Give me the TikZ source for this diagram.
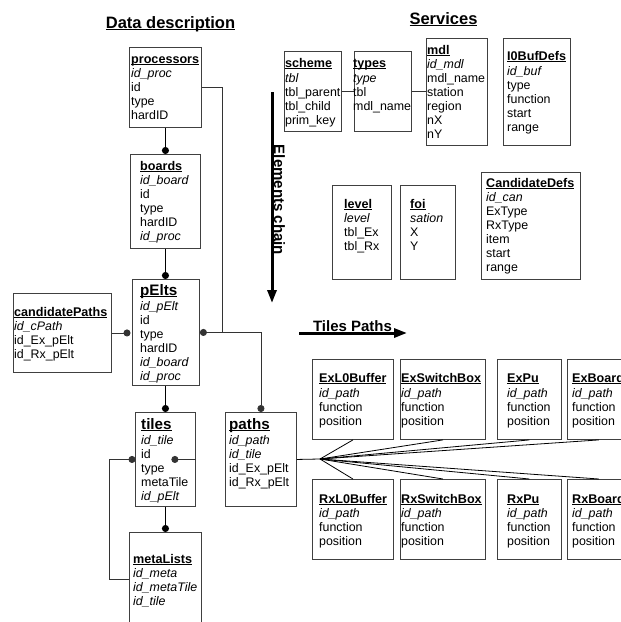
\documentclass[tikz,border=0pt]{standalone}
\usepackage{fontspec}
\setmainfont{Liberation Sans}
\usetikzlibrary{arrows.meta,calc}
\newsavebox\ulbox
\newcommand\ulx[1]{\sbox\ulbox{#1}\rlap{\rule[-1.8pt]{\wd\ulbox}{0.8pt}}\usebox\ulbox}
\newcommand\fldfont{\fontsize{12.4}{14}\selectfont}
\newcommand\hdrfont{\fontsize{12.6}{14}\selectfont\bfseries}
\newcommand\bighdrfont{\fontsize{15.2}{16}\selectfont\bfseries}
\newcommand\ttlfont{\fontsize{16.5}{18}\selectfont\bfseries}
\newcommand\arrfont{\fontsize{15}{16}\selectfont\bfseries}
\tikzset{
  tbl/.style={draw=black!75, line width=0.9pt, inner sep=0pt, anchor=north west},
  fld/.style={anchor=base west, inner sep=0pt, font=\fldfont},
  hdr/.style={anchor=base west, inner sep=0pt, font=\hdrfont},
  bighdr/.style={anchor=base west, inner sep=0pt, font=\bighdrfont},
  conn/.style={draw=black!80, line width=0.8pt},
  fanline/.style={draw=black, line width=0.8pt},
  stub/.style={draw=black, line width=1.6pt, -{Circle[length=7pt]}},
  dotstart/.style={{Circle[length=7pt]}-},
  dotend/.style={-{Circle[length=7pt]}},
  bigarrow/.style={draw=black, line width=3pt, -{Triangle[length=13pt,width=9pt]}},
}
\newcommand\tbox[5]{\node[tbl, minimum width={(#4-#2)*1pt}, minimum height={(#5-#3)*1pt}] (#1) at (#2,#3) {};}
\newcommand\thdr[5][hdr]{\node[#1] (#2-h) at (#3,#4) {\ulx{#5}};}
\newcommand\tflds[4]{\foreach \fx [count=\i from 0] in {#4} {\node[fld] (#1-f\i) at (#2,{#3+14*\i}) {\fx};}}
\begin{document}
\begin{tikzpicture}[x=1pt,y=-1pt]
\useasboundingbox (0,0) rectangle (621,622);
\clip (0,0) rectangle (621,622);
\fill[white] (0,0) rectangle (621,622);

% titles
\node[anchor=base, inner sep=0pt, font=\ttlfont] (tdata) at (170.5,28) {\ulx{Data description}};
\node[anchor=base, inner sep=0pt, font=\ttlfont] (tserv) at (443.5,24) {\ulx{Services}};

% data description tables
\tbox{proc}{129}{47}{201}{127}
\thdr{proc}{131}{63}{processors}
\tflds{proc}{131}{77}{\textit{id\_proc},id,type,hardID}

\tbox{boards}{130}{154}{200}{248}
\thdr{boards}{140}{170}{boards}
\tflds{boards}{140}{184}{\textit{id\_board},id,type,hardID,\textit{id\_proc}}

\tbox{pelts}{132}{279}{199}{385}
\thdr[bighdr]{pelts}{140}{295}{pElts}
\tflds{pelts}{140}{310}{\textit{id\_pElt},id,type,hardID,\textit{id\_board},\textit{id\_proc}}

\tbox{cand}{13}{293}{111}{372}
\thdr{cand}{14}{316}{candidatePaths}
\tflds{cand}{14}{330}{\textit{id\_cPath},id\_Ex\_pElt,id\_Rx\_pElt}

\tbox{tiles}{135}{412}{195}{506}
\thdr[bighdr]{tiles}{141}{429}{tiles}
\tflds{tiles}{141}{444}{\textit{id\_tile},id,type,metaTile,\textit{id\_pElt}}

\tbox{paths}{225}{412}{296}{506}
\thdr[bighdr]{paths}{229}{429}{paths}
\tflds{paths}{229}{444}{\textit{id\_path},\textit{id\_tile},id\_Ex\_pElt,id\_Rx\_pElt}

\tbox{meta}{129}{532}{201}{626}
\thdr{meta}{133}{563}{metaLists}
\tflds{meta}{133}{577}{\textit{id\_meta},\textit{id\_metaTile},\textit{id\_tile}}

% services tables
\tbox{scheme}{284}{51}{341}{131}
\thdr{scheme}{285}{67}{scheme}
\tflds{scheme}{285}{82}{\textit{tbl},tbl\_parent,tbl\_child,prim\_key}

\tbox{types}{354}{51}{411}{131}
\thdr{types}{353}{67}{types}
\tflds{types}{353}{82}{\textit{type},tbl,mdl\_name}

\tbox{mdl}{426}{38}{487}{145}
\thdr{mdl}{427}{54}{mdl}
\tflds{mdl}{427}{68}{\textit{id\_mdl},mdl\_name,station,region,nX,nY}

\tbox{buf}{503}{38}{570}{145}
\thdr{buf}{507}{60}{I0BufDefs}
\tflds{buf}{507}{75}{\textit{id\_buf},type,function,start,range}

\tbox{cdefs}{481}{172}{580}{279}
\thdr{cdefs}{486}{187}{CandidateDefs}
\tflds{cdefs}{486}{201}{\textit{id\_can},ExType,RxType,item,start,range}

\tbox{level}{332}{185}{391}{279}
\thdr{level}{344}{208}{level}
\tflds{level}{344}{222}{\textit{level},tbl\_Ex,tbl\_Rx}

\tbox{foi}{400}{185}{455}{279}
\thdr{foi}{410}{208}{foi}
\tflds{foi}{410}{222}{\textit{sation},X,Y}

% tiles paths tables
\tbox{exl0}{312}{359}{393}{439}
\thdr{exl0}{319}{382}{ExL0Buffer}
\tflds{exl0}{319}{397}{\textit{id\_path},function,position}

\tbox{exsw}{400}{359}{485}{439}
\thdr{exsw}{401}{382}{ExSwitchBox}
\tflds{exsw}{401}{397}{\textit{id\_path},function,position}

\tbox{expu}{497}{359}{561}{439}
\thdr{expu}{507}{382}{ExPu}
\tflds{expu}{507}{397}{\textit{id\_path},function,position}

\tbox{exbd}{567}{359}{630}{439}
\thdr{exbd}{572}{382}{ExBoard}
\tflds{exbd}{572}{397}{\textit{id\_path},function,position}

\tbox{rxl0}{312}{479}{393}{559}
\thdr{rxl0}{319}{503}{RxL0Buffer}
\tflds{rxl0}{319}{517}{\textit{id\_path},function,position}

\tbox{rxsw}{400}{479}{485}{559}
\thdr{rxsw}{401}{503}{RxSwitchBox}
\tflds{rxsw}{401}{517}{\textit{id\_path},function,position}

\tbox{rxpu}{497}{479}{561}{559}
\thdr{rxpu}{507}{503}{RxPu}
\tflds{rxpu}{507}{517}{\textit{id\_path},function,position}

\tbox{rxbd}{567}{479}{630}{559}
\thdr{rxbd}{572}{503}{RxBoard}
\tflds{rxbd}{572}{517}{\textit{id\_path},function,position}

% connectors: data description
\draw[stub] (proc.south) -- (proc.south |- boards.north);
\draw[stub] (boards.south) -- (boards.south |- pelts.north);
\draw[stub] (tiles.north |- pelts.south) -- (tiles.north);
\draw[stub] (tiles.south) -- (tiles.south |- meta.north);

\draw[conn,dotend] (proc.east) -- ++(20,0) |- (pelts.east);
\draw[conn,dotend] ([xshift=20pt]proc.east |- pelts.east) -| (paths.north);
\draw[conn,dotend] (cand.east) -- ([xshift=-1.5pt]pelts.west |- cand.east);
\draw[conn,dotstart] ([xshift=0.5pt]tiles.west) -- ++(-26.5,0) |- (meta.west);
\draw[conn,dotstart] ([xshift=-24.5pt]tiles.east) -- (tiles.east);

% connectors: services
\draw[conn] (scheme.east) -- (types.west);
\draw[conn] (types.east) -- (types.east -| mdl.west);

% fan
\coordinate (fan) at (320,459);
\draw[fanline] (paths.east) -- (fan);
\foreach \b in {exl0,exsw,expu,exbd} {\draw[fanline] (fan) -- (\b.south);}
\foreach \b in {rxl0,rxsw,rxpu,rxbd} {\draw[fanline] (fan) -- (\b.north);}

% big arrows
\coordinate (ecA) at (272,92);
\coordinate (ecB) at (272,303);
\draw[bigarrow] (ecA) -- (ecB);
\node[anchor=base, inner sep=0pt, rotate=-90, font=\arrfont] (ectext) at (274,200) {Elements chain};

\coordinate (tpA) at (299,333);
\coordinate (tpB) at (407,333);
\draw[bigarrow] (tpA) -- (tpB);
\node[anchor=base, inner sep=0pt, font=\arrfont] (tptext) at (352.5,331) {Tiles Paths};
\end{tikzpicture}
\end{document}
